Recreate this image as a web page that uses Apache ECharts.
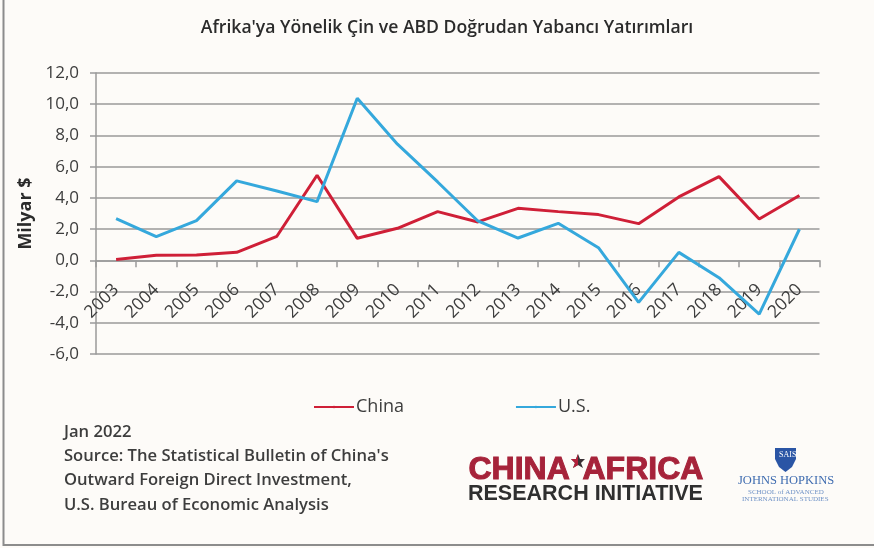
<!DOCTYPE html>
<html>
<head>
<meta charset="utf-8">
<style>html,body{margin:0;padding:0;background:#fdfbf8}#chart{width:874px;height:548px}</style>
<script src="https://cdn.jsdelivr.net/npm/echarts@6/dist/echarts.min.js"></script>
</head>
<body>
<div id="chart"></div>
<script>
var years = ['2003','2004','2005','2006','2007','2008','2009','2010','2011','2012','2013','2014','2015','2016','2017','2018','2019','2020'];
var china = [0.05,0.32,0.34,0.51,1.54,5.45,1.41,2.05,3.12,2.46,3.33,3.12,2.93,2.35,4.06,5.36,2.65,4.15];
var us = [2.67,1.52,2.54,5.09,4.44,3.76,10.38,7.44,5.02,2.52,1.43,2.37,0.81,-2.69,0.51,-1.11,-3.44,1.99];
var sourceLines = ['Jan 2022',"Source: The Statistical Bulletin of China's",'Outward Foreign Direct Investment,','U.S. Bureau of Economic Analysis'];

var textFont = '"Open Sans","Noto Sans",sans-serif';
var chart = echarts.init(document.getElementById('chart'));

var graphics = [
    {type:'rect', z:-1, shape:{x:3.5,y:-3,width:890,height:548}, style:{fill:'#fdfbf8',stroke:'#8c8c8c',lineWidth:2}},
    // logo, left one
    {type:'text', left:468, top:454, style:{text:'CHINA',fill:'#a6233a',stroke:'#a6233a',lineWidth:1,font:'900 32px "Liberation Sans",sans-serif'}},
    {type:'text', left:582, top:454, style:{text:'AFRICA',fill:'#a6233a',stroke:'#a6233a',lineWidth:1,font:'900 32px "Liberation Sans",sans-serif'}},
    {type:'text', left:468, top:483, style:{text:'RESEARCH INITIATIVE',fill:'#2f2f2f',font:'bold 21.5px "Liberation Sans",sans-serif'}},
    {type:'polygon', shape:{points:[[578,454],[580,459],[585,459],[581,463],[583,468],[578,465],[573,468],[575,463],[571,459],[576,459]]}, style:{fill:'#3a3035'}},
    {type:'polygon', shape:{points:[[576,459],[578,454],[578,465],[573,468],[575,463],[571,459]]}, style:{fill:'#b3213a'}},
    // logo, right one
    {type:'polygon', shape:{points:[[775,448],[796,448],[796,459],[792,467],[785.5,472],[779,467],[775,459]]}, style:{fill:'#2a55a5'}},
    {type:'text', left:779, top:451, style:{text:'SAIS',fill:'#ffffff',font:'8px "Liberation Serif",serif'}},
    {type:'text', left:738, top:474, style:{text:'JOHNS HOPKINS',fill:'#3f6cb0',font:'12.5px "Liberation Serif",serif'}},
    {type:'text', left:748, top:489, style:{text:'SCHOOL of ADVANCED',fill:'#6f92c6',font:'7px "Liberation Serif",serif'}},
    {type:'text', left:742, top:496, style:{text:'INTERNATIONAL STUDIES',fill:'#6f92c6',font:'7px "Liberation Serif",serif'}}
];
sourceLines.forEach(function (line, i) {
    graphics.push({type:'text', left:64, top:[424,448,472,497][i], style:{text:line,fill:'#3d3d3d',font:'600 16.6px '+textFont}});
});

chart.setOption({
    animation:false,
    backgroundColor:'#fdfbf8',
    title:{
        text:"Afrika'ya Yönelik Çin ve ABD Doğrudan Yabancı Yatırımları",
        left:442, top:14, textAlign:'center',
        textStyle:{color:'#2b2b2b',fontSize:17.6,fontWeight:600,fontFamily:textFont}
    },
    legend:{
        left:308, top:393, itemWidth:40, itemHeight:3, itemGap:111,
        textStyle:{color:'#3d3d3d',fontSize:18,fontFamily:textFont,padding:[0,0,0,-3]},
        data:['China','U.S.']
    },
    grid:{left:96,right:54.5,top:73,height:281},
    xAxis:{
        type:'category', data:years,
        axisLine:{onZero:true,lineStyle:{color:'#9a9a9a',width:1.5}},
        axisTick:{show:true,length:7,alignWithLabel:false,lineStyle:{color:'#9a9a9a',width:1.5}},
        axisLabel:{rotate:45,margin:-67,interval:0,color:'#3d3d3d',fontSize:17.5,fontFamily:textFont}
    },
    yAxis:{
        type:'value', min:-6, max:12, interval:2,
        name:'Milyar $', nameLocation:'middle', nameGap:56, nameRotate:90,
        nameTextStyle:{color:'#2b2b2b',fontSize:18,fontWeight:'bold',fontFamily:textFont},
        axisLine:{show:true,lineStyle:{color:'#9a9a9a',width:1.5}},
        axisTick:{show:true,length:6,lineStyle:{color:'#9a9a9a',width:1.5}},
        splitLine:{show:true,lineStyle:{color:'#9a9a9a',width:1.5}},
        axisLabel:{margin:17,color:'#3d3d3d',fontSize:17,fontFamily:textFont,
            formatter:function (v) { return v.toFixed(1).replace('.',','); }}
    },
    series:[
        {name:'China',type:'line',data:china,symbol:'none',lineStyle:{color:'#cf1f37',width:3},itemStyle:{color:'#cf1f37'}},
        {name:'U.S.',type:'line',data:us,symbol:'none',lineStyle:{color:'#35a8dc',width:3},itemStyle:{color:'#35a8dc'}}
    ],
    graphic:graphics
});
</script>
</body>
</html>
